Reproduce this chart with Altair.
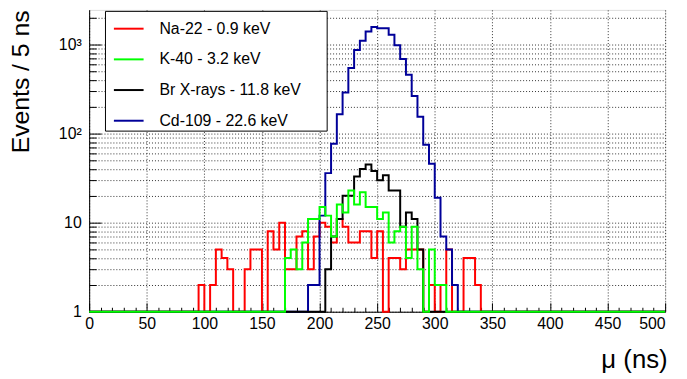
import altair as alt
import pandas as pd

# ---- data (counts per 5 ns bin) ----
series_names = ["Na-22 - 0.9 keV", "K-40 - 3.2 keV", "Br X-rays - 11.8 keV", "Cd-109 - 22.6 keV"]
series_colors = ["#ff0000", "#00ff00", "#000000", "#000099"]

na22_start = 95
na22_counts = [2, 0, 2, 5, 4, 3, 0, 0, 3, 5, 5, 0, 8, 5, 10, 3, 3, 7, 8, 3, 7, 10, 9, 6, 11,
               9, 6, 6, 8, 8, 4, 8, 0, 4, 4, 3, 5, 5, 5, 0, 2, 0, 2, 5, 0, 0, 4, 4, 2]

k40_start = 170
k40_counts = [4, 5, 3, 6, 11, 11, 15, 12, 7, 16, 13, 23, 16, 22, 15, 15, 11, 13, 6, 8, 9, 4, 9,
              3, 0, 5, 2, 2]

br_start = 205
br_counts = [3, 7, 11, 20, 20, 33, 40, 45, 38, 30, 34, 23, 23, 9, 13, 11, 5]

cd109_start = 190
cd109_counts = [2, 2, 12, 36, 77, 165, 290, 545, 870, 1100, 1400, 1570, 1520, 1520, 1290, 980,
                690, 457, 264, 155, 75, 46, 19, 7, 5, 2]

bin_width = 5
x_max = 500
x_label_values = list(range(0, 501, 50))
x_tick_values = list(range(0, 501, 10))
y_tick_values = [1, 2, 3, 4, 5, 6, 7, 8, 9, 10, 20, 30, 40, 50, 60, 70, 80, 90,
                 100, 200, 300, 400, 500, 600, 700, 800, 900, 1000, 2000]


def build(name, start, counts):
    nbins = x_max // bin_width
    full = [0] * nbins
    i0 = start // bin_width
    for k, c in enumerate(counts):
        full[i0 + k] = c
    xs = [bin_width * i for i in range(nbins)] + [x_max]
    ys = [max(c, 1) for c in full] + [max(full[-1], 1)]
    return pd.DataFrame({"mu": xs, "events": ys, "series": name})


df_na = build(series_names[0], na22_start, na22_counts)
df_k = build(series_names[1], k40_start, k40_counts)
df_br = build(series_names[2], br_start, br_counts)
df_cd = build(series_names[3], cd109_start, cd109_counts)

FONT = "Liberation Sans"
W, H = 582, 305

xscale = alt.Scale(domain=[0, x_max], nice=False, zero=False)
yscale = alt.Scale(type="log", domain=[1, 2450], nice=False)
cscale = alt.Scale(domain=series_names, range=series_colors)

legend = alt.Legend(
    orient="none", legendX=16, legendY=1, title=None,
    fillColor="white", strokeColor="black",
    padding=2, symbolType="stroke", symbolSize=900, symbolStrokeWidth=2,
    symbolOffset=6, labelOffset=15, rowPadding=7, labelLimit=400,
    labelFont=FONT, labelFontSize=16, labelColor="black",
    labelExpr="datum.label + '\u2800\u2800'",
)

x_axis_main = alt.Axis(
    values=x_label_values, grid=True, gridColor="#333333", gridDash=[1, 2], gridWidth=1,
    ticks=False, labelPadding=4, labelFont=FONT, labelFontSize=16, labelColor="black",
    labelFlush=False, labelOverlap=False, domainColor="black",
    labelAlign={"condition": {"test": "datum.value == 500", "value": "right"}, "value": "center"},
    title="μ (ns)", titleFont=FONT, titleFontSize=26, titleFontWeight="normal",
    titleColor="black", titleAnchor="end", titleAlign="right", titleX=W + 2, titleY=56,
    titleBaseline="alphabetic",
)

y_label_expr = ("datum.value == 1000 ? '10³' : datum.value == 100 ? '10²' : "
                "datum.value == 10 ? '10' : datum.value == 1 ? '1' : ''")

y_axis_main = alt.Axis(
    values=y_tick_values, grid=True, gridColor="#333333", gridDash=[1, 2], gridWidth=1,
    ticks=False, labelPadding=8, labelFont=FONT, labelFontSize=16, labelColor="black",
    labelFlush=False, labelOverlap=False, labelExpr=y_label_expr, domainColor="black",
    title="Events / 5 ns", titleFont=FONT, titleFontSize=25, titleFontWeight="normal",
    titleColor="black", titleAngle=270, titleAlign="right", titleBaseline="middle",
    titleX=-69, titleY=0,
)


def line_layer(df, main=False):
    return alt.Chart(df).mark_line(interpolate="step-after", strokeWidth=2).encode(
        x=alt.X("mu:Q", scale=xscale, axis=x_axis_main if main else None),
        y=alt.Y("events:Q", scale=yscale, axis=y_axis_main if main else None),
        color=alt.Color("series:N", scale=cscale, legend=legend),
    )


tick_layer = alt.Chart(df_na).mark_point(opacity=0).encode(
    x=alt.X("mu:Q", scale=xscale, axis=alt.Axis(
        orient="top", offset=-H, values=x_tick_values, labels=False, domain=False,
        grid=False, title=None, tickColor="black", tickWidth=1,
        tickSize={"condition": {"test": "datum.value % 50 == 0", "value": 9}, "value": 4.5})),
    y=alt.Y("events:Q", scale=yscale, axis=alt.Axis(
        orient="right", offset=-W, values=y_tick_values, labels=False, domain=False,
        grid=False, title=None, tickColor="black", tickWidth=1,
        tickSize={"condition": {"test": "indexof([1,10,100,1000], datum.value) >= 0", "value": 12},
                  "value": 7})),
)

chart = alt.layer(
    line_layer(df_na, main=True),
    line_layer(df_cd),
    line_layer(df_br),
    line_layer(df_k),
    tick_layer,
).resolve_scale(x="shared", y="shared", color="shared").resolve_axis(
    x="independent", y="independent"
).properties(
    width=W, height=H, autosize="none",
    padding={"left": 82, "top": 0, "right": 14, "bottom": 60},
).configure_view(stroke="black", strokeWidth=1).configure(background="white")

chart.save("out.html", embed_options={"renderer": "svg", "actions": False})
